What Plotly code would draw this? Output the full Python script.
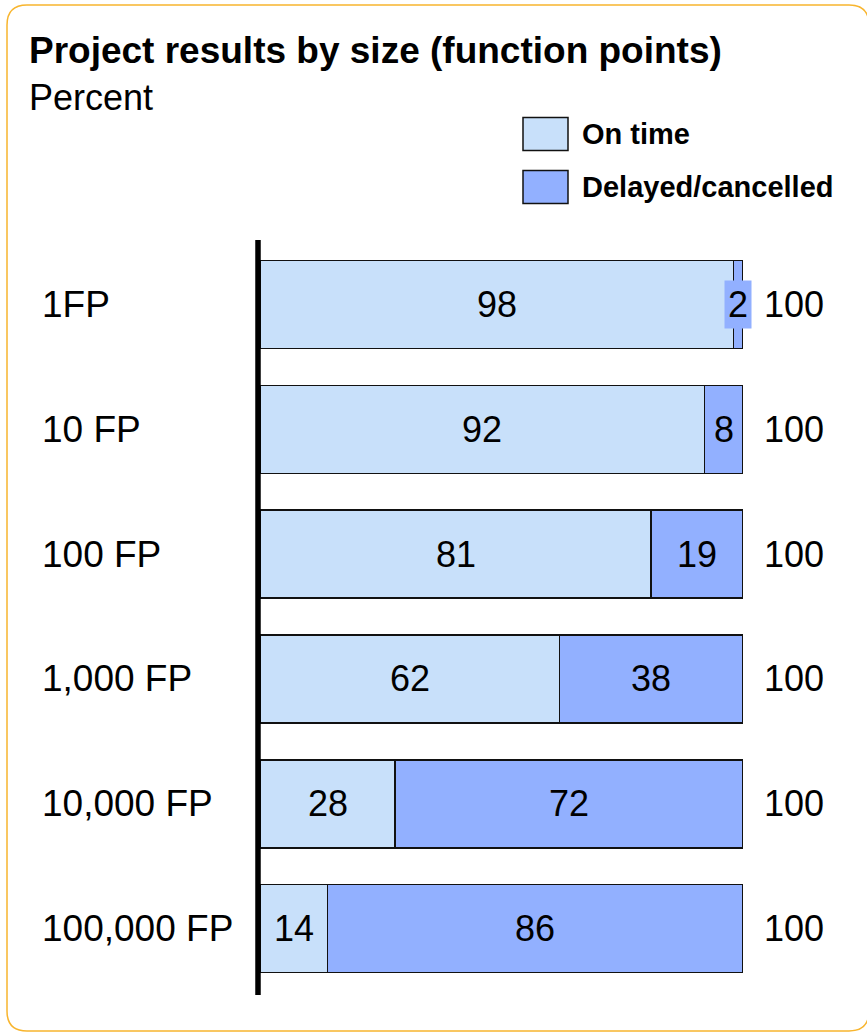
import plotly.graph_objects as go

# Data
sizes = ["1FP", "10 FP", "100 FP", "1,000 FP", "10,000 FP", "100,000 FP"]
on_time = [98, 92, 81, 62, 28, 14]
delayed = [2, 8, 19, 38, 72, 86]
totals = [100, 100, 100, 100, 100, 100]
series_names = ["On time", "Delayed/cancelled"]

# Styling
FONT = "Liberation Sans, Arial, Helvetica, sans-serif"
C_ON = "#C8E0FA"
C_DELAY = "#92B0FF"
BORDER = "#F8B52E"
LBL = 36

W_FIG, H_FIG = 867, 1033
ML, MR, MT, MB = 260, 124, 242, 42
PW = W_FIG - ML - MR
PH = H_FIG - MT - MB


def px(x):
    return (x - ML) / PW


def py(y):
    return (H_FIG - MB - y) / PH


fig = go.Figure()
for name, vals, col in [(series_names[0], on_time, C_ON), (series_names[1], delayed, C_DELAY)]:
    fig.add_trace(go.Bar(
        y=sizes, x=vals, name=name, orientation="h",
        marker=dict(color=col, line=dict(color="#111111", width=1.5)),
        hoverinfo="x+y+name",
    ))

ann = []
# segment value labels
for i, cat in enumerate(sizes):
    a, b = on_time[i], delayed[i]
    ann.append(dict(x=a / 2, y=cat, xref="x", yref="y", text=str(a), showarrow=False,
                    font=dict(family=FONT, size=LBL, color="black")))
    small = b < 5
    ann.append(dict(x=a + b / 2, y=cat, xref="x", yref="y", text=str(b), showarrow=False,
                    font=dict(family=FONT, size=LBL, color="black"),
                    bgcolor=C_DELAY if small else None, borderpad=3 if small else 1))
    # totals to the right of the bars
    ann.append(dict(x=px(762), y=cat, xref="paper", yref="y", text=str(totals[i]),
                    xanchor="left", showarrow=False,
                    font=dict(family=FONT, size=LBL, color="black")))
    # category labels
    ann.append(dict(x=px(40), y=cat, xref="paper", yref="y", text=cat,
                    xanchor="left", showarrow=False,
                    font=dict(family=FONT, size=37, color="black")))

# title and subtitle
ann.append(dict(x=px(27), y=py(50), xref="paper", yref="paper", xanchor="left", yanchor="middle",
                text="<b>Project results by size (function points)</b>", showarrow=False,
                font=dict(family=FONT, size=37, color="black")))
ann.append(dict(x=px(27), y=py(98), xref="paper", yref="paper", xanchor="left", yanchor="middle",
                text="Percent", showarrow=False,
                font=dict(family=FONT, size=36, color="black")))

shapes = []
# legend swatches and labels
for (name, col, yc) in [(series_names[0], C_ON, 134), (series_names[1], C_DELAY, 187)]:
    shapes.append(dict(type="rect", xref="paper", yref="paper",
                       x0=px(523), x1=px(568), y0=py(yc - 16.5), y1=py(yc + 16.5),
                       fillcolor=col, line=dict(color="#111111", width=1.5)))
    ann.append(dict(x=px(580), y=py(yc), xref="paper", yref="paper", xanchor="left", yanchor="middle",
                    text=f"<b>{name}</b>", showarrow=False,
                    font=dict(family=FONT, size=29, color="black")))

# vertical baseline
shapes.append(dict(type="line", xref="paper", yref="paper", x0=px(258), x1=px(258),
                   y0=py(995), y1=py(240), line=dict(color="black", width=5.5)))

# rounded frame
x0, y0, x1, y1, r = 7, 5, 869, 1031, 20
pts = (f"M {px(x0 + r)},{py(y0)} L {px(x1 - r)},{py(y0)} "
       f"Q {px(x1)},{py(y0)} {px(x1)},{py(y0 + r)} L {px(x1)},{py(y1 - r)} "
       f"Q {px(x1)},{py(y1)} {px(x1 - r)},{py(y1)} L {px(x0 + r)},{py(y1)} "
       f"Q {px(x0)},{py(y1)} {px(x0)},{py(y1 - r)} L {px(x0)},{py(y0 + r)} "
       f"Q {px(x0)},{py(y0)} {px(x0 + r)},{py(y0)} Z")
shapes.append(dict(type="path", xref="paper", yref="paper", path=pts,
                   line=dict(color=BORDER, width=1.5), layer="below"))

fig.update_layout(
    width=W_FIG, height=H_FIG,
    margin=dict(l=ML, r=MR, t=MT, b=MB),
    barmode="stack", bargap=0.295,
    showlegend=False,
    plot_bgcolor="white", paper_bgcolor="white",
    xaxis=dict(range=[0, 100], visible=False, fixedrange=True),
    yaxis=dict(categoryorder="array", categoryarray=sizes, range=[5.5, -0.5],
               showticklabels=False, showgrid=False, zeroline=False, showline=False, ticks=""),
    annotations=ann, shapes=shapes,
)

fig.write_html("out.html")
